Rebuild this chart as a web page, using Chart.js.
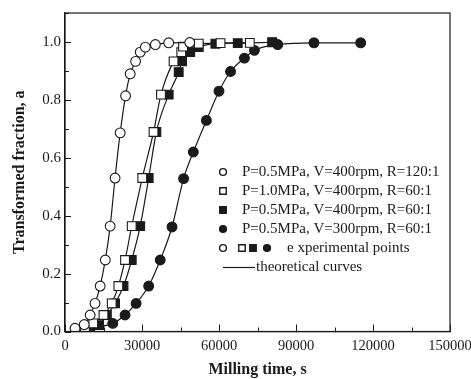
<!DOCTYPE html>
<html>
<head>
<meta charset="utf-8">
<script src="https://cdn.jsdelivr.net/npm/chart.js@4.4.1/dist/chart.umd.min.js"></script>
<style>
  html, body { margin: 0; padding: 0; background: #fff; }
  #wrap { width: 471px; height: 379px; }
</style>
</head>
<body>
<div id="wrap"><canvas id="millingChart" width="471" height="379"></canvas></div>
<script>
// P=0.5MPa, V=400rpm, R=120:1 (open circles)
const timeA = [3900, 7500, 9800, 11700, 13700, 15700, 17600, 19500, 21500, 23600, 25400, 27500, 29300, 31300, 35200, 40400, 48600];
const fracA = [0.011, 0.024, 0.057, 0.097, 0.157, 0.247, 0.364, 0.530, 0.686, 0.814, 0.890, 0.933, 0.965, 0.982, 0.991, 0.997, 0.998];

// P=1.0MPa, V=400rpm, R=60:1 (open squares)
const timeB = [7800, 11000, 15000, 18200, 20800, 23400, 26000, 30100, 34500, 37400, 42300, 45300, 46000, 52100, 60600, 72000];
const fracB = [0.010, 0.028, 0.057, 0.097, 0.157, 0.247, 0.364, 0.530, 0.689, 0.818, 0.933, 0.965, 0.984, 0.994, 0.996, 0.997];

// P=0.5MPa, V=400rpm, R=60:1 (filled squares)
const timeC = [9500, 13300, 16300, 19500, 22800, 26000, 29300, 32600, 35600, 40400, 44300, 45600, 48800, 52100, 58600, 67300, 80700];
const fracC = [0.010, 0.022, 0.057, 0.097, 0.157, 0.247, 0.364, 0.530, 0.689, 0.818, 0.896, 0.933, 0.965, 0.982, 0.994, 0.996, 0.999];

// P=0.5MPa, V=300rpm, R=60:1 (filled circles)
const timeD = [9800, 18600, 23400, 27700, 32600, 37100, 41700, 46200, 50000, 55100, 60000, 64500, 69900, 73800, 82900, 97000, 115200];
const fracD = [0.011, 0.028, 0.057, 0.097, 0.157, 0.247, 0.361, 0.528, 0.620, 0.729, 0.830, 0.898, 0.944, 0.971, 0.991, 0.997, 0.997];

const seriesLabels = [
  "P=0.5MPa, V=400rpm, R=120:1",
  "P=1.0MPa, V=400rpm, R=60:1",
  "P=0.5MPa, V=400rpm, R=60:1",
  "P=0.5MPa, V=300rpm, R=60:1"
];
const pointsLabel = "e xperimental points";
const curvesLabel = "theoretical curves";

const xTitle = "Milling time, s";
const yTitle = "Transformed fraction, a";

const FONT = "'Liberation Serif', 'Times New Roman', serif";
const INK = "#1a1a1a";

function toPoints(xs, ys) {
  return xs.map((x, i) => ({ x: x, y: ys[i] }));
}

const markerStyles = [
  { pointStyle: "circle", fill: "#ffffff" },
  { pointStyle: "rect", fill: "#ffffff" },
  { pointStyle: "rect", fill: INK },
  { pointStyle: "circle", fill: INK }
];

const allData = [
  toPoints(timeA, fracA),
  toPoints(timeB, fracB),
  toPoints(timeC, fracC),
  toPoints(timeD, fracD)
];

const datasets = allData.map((pts, i) => ({
  label: seriesLabels[i],
  data: pts,
  showLine: true,
  cubicInterpolationMode: "monotone",
  borderColor: INK,
  borderWidth: 1.2,
  pointStyle: markerStyles[i].pointStyle,
  pointRadius: markerStyles[i].pointStyle === "rect" ? 6.2 : 4.9,
  pointBackgroundColor: markerStyles[i].fill,
  pointBorderColor: INK,
  pointBorderWidth: 1.1,
  fill: false
}));

// frame, inward ticks and the in-plot legend
const extras = {
  id: "extras",
  afterDraw(chart) {
    const ctx = chart.ctx;
    const a = chart.chartArea;
    const xs = chart.scales.x;
    const ys = chart.scales.y;
    ctx.save();
    ctx.strokeStyle = INK;
    ctx.lineWidth = 1.2;
    ctx.strokeRect(a.left, a.top, a.right - a.left, a.bottom - a.top);

    // inward ticks
    ctx.lineWidth = 1;
    ctx.beginPath();
    xs.ticks.forEach((t) => {
      const px = Math.round(xs.getPixelForValue(t.value)) + 0.5;
      const major = t.value % 30000 === 0;
      ctx.moveTo(px, a.bottom);
      ctx.lineTo(px, a.bottom - (major ? 7 : 4));
    });
    ys.ticks.forEach((t) => {
      const py = Math.round(ys.getPixelForValue(t.value)) + 0.5;
      const major = Math.round(t.value * 10) % 2 === 0;
      ctx.moveTo(a.left, py);
      ctx.lineTo(a.left + (major ? 6 : 4), py);
    });
    ctx.stroke();

    // legend
    const lx = 223, tx = 242, top = 172, step = 19;
    ctx.font = "15px " + FONT;
    ctx.fillStyle = INK;
    ctx.textBaseline = "middle";
    ctx.textAlign = "left";
    const drawMarker = (i, x, y) => {
      const st = markerStyles[i];
      const opts = {
        pointStyle: st.pointStyle,
        radius: st.pointStyle === "rect" ? 4.6 : 3.4,
        rotation: 0,
        borderWidth: 1.4
      };
      ctx.fillStyle = st.fill;
      ctx.strokeStyle = INK;
      ctx.lineWidth = 1.4;
      Chart.helpers.drawPoint(ctx, opts, x, y);
      ctx.fillStyle = INK;
    };
    seriesLabels.forEach((lab, i) => {
      const y = top + i * step;
      drawMarker(i, lx, y);
      ctx.fillText(lab, tx, y);
    });
    const yp = top + 4 * step;
    [223, 242, 253, 267].forEach((x, i) => drawMarker(i, x, yp));
    ctx.fillText(pointsLabel, 287, yp);
    const yc = top + 5 * step;
    ctx.strokeStyle = INK;
    ctx.lineWidth = 1.2;
    ctx.beginPath();
    ctx.moveTo(223, yc + 0.5);
    ctx.lineTo(255, yc + 0.5);
    ctx.stroke();
    ctx.fillText(curvesLabel, 256, yc);
    ctx.restore();
  }
};

const ctx = document.getElementById("millingChart").getContext("2d");
new Chart(ctx, {
  type: "scatter",
  data: { datasets: datasets },
  plugins: [extras],
  options: {
    responsive: false,
    animation: false,
    events: [],
    layout: { padding: { top: 13, right: 21, bottom: 0, left: 0 } },
    plugins: {
      legend: { display: false },
      tooltip: { enabled: false }
    },
    scales: {
      x: {
        type: "linear",
        min: 0,
        max: 150000,
        afterFit(scale) {
          scale.height = 47.5;
          scale.paddingLeft = 0;
          scale.paddingRight = 0;
        },
        border: { display: true, color: INK, width: 1.2 },
        grid: { drawOnChartArea: false, drawTicks: false },
        ticks: {
          stepSize: 15000,
          maxRotation: 0,
          autoSkip: false,
          padding: 6,
          color: INK,
          font: { family: FONT, size: 14.5 },
          callback: (v) => (v % 30000 === 0 ? String(v) : "")
        },
        title: {
          display: true,
          text: xTitle,
          color: INK,
          font: { family: FONT, size: 16, weight: "bold" },
          padding: { top: 14, bottom: 0 }
        }
      },
      y: {
        type: "linear",
        min: 0,
        max: 1.1,
        afterFit(scale) {
          scale.width = 65;
        },
        border: { display: true, color: INK, width: 1.2 },
        grid: { drawOnChartArea: false, drawTicks: false },
        ticks: {
          stepSize: 0.1,
          autoSkip: false,
          padding: 4,
          color: INK,
          font: { family: FONT, size: 15 },
          callback: (v) => {
            const k = Math.round(v * 10);
            return k % 2 === 0 && k <= 10 ? (k / 10).toFixed(1) : "";
          }
        },
        title: {
          display: true,
          text: yTitle,
          color: INK,
          font: { family: FONT, size: 16, weight: "bold" },
          padding: { top: 10, bottom: 0 }
        }
      }
    }
  }
});
</script>
</body>
</html>
